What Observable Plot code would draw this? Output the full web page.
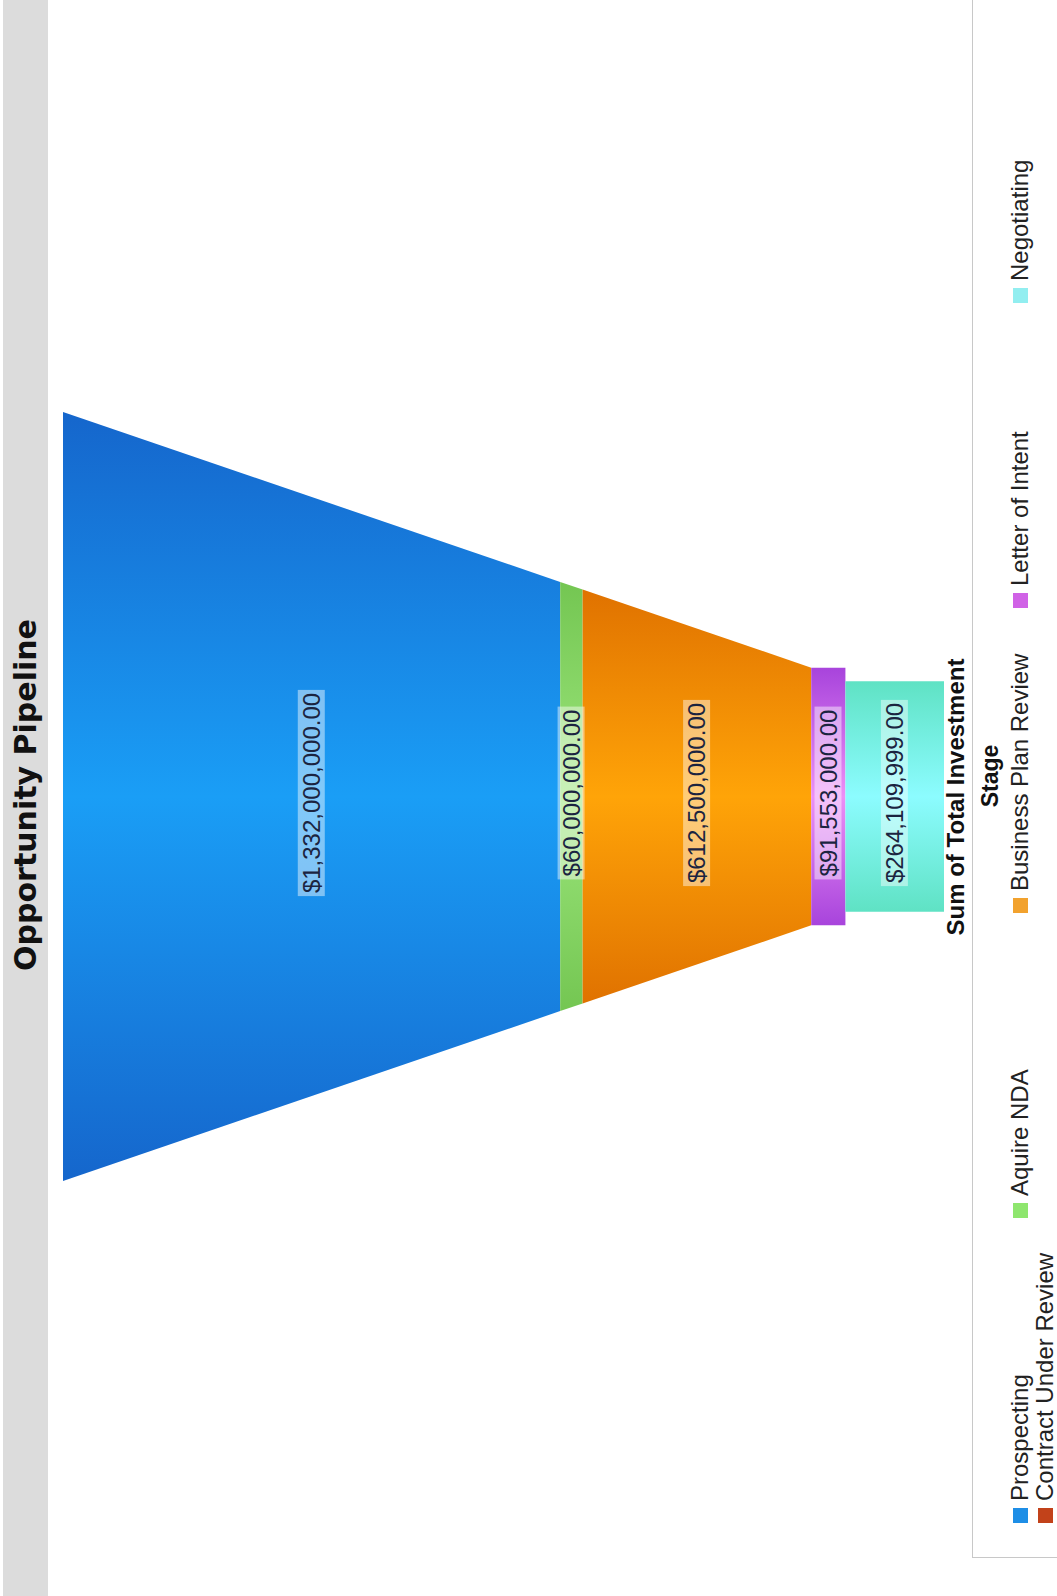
<!DOCTYPE html>
<html>
<head>
<meta charset="utf-8">
<script src="https://cdn.jsdelivr.net/npm/d3@7"></script>
<script src="https://cdn.jsdelivr.net/npm/@observablehq/plot@0.6"></script>
<style>
  html, body { margin: 0; padding: 0; background: #fff; }
  body { width: 1057px; height: 1596px; overflow: hidden; position: relative; }
  #frame {
    position: absolute; left: 0; top: 0; width: 1596px; height: 1057px;
    transform-origin: 0 0; transform: translate(0px, 1596px) rotate(-90deg);
    font-family: "Liberation Sans", Arial, sans-serif; color: #1a1a1a;
  }
  #titlebar { position: absolute; left: 0; top: 3px; width: 1596px; height: 45px; background: #dcdcdc; }
  #title { position: absolute; left: 0; top: 3px; width: 1602px; height: 45px; line-height: 45px;
    text-align: center; font-family: "DejaVu Sans", sans-serif; font-weight: bold; font-size: 30px; color: #111; }
  #chart { position: absolute; left: 0; top: 48px; width: 1596px; }
  #chart svg { background: transparent; max-width: none; }
  #axistitle { position: absolute; left: 0; top: 944px; width: 1598px; line-height: 24px; text-align: center;
    font-weight: bold; font-size: 24px; color: #111; }
  #legendbox { position: absolute; left: 38px; top: 972px; width: 1600px; height: 120px;
    border-left: 1px solid #c8c8c8; border-top: 1px solid #c8c8c8; }
  #legendtitle { position: absolute; left: 0; top: 978px; width: 1640px; line-height: 24px; text-align: center;
    font-weight: bold; font-size: 23px; color: #111; }
  .item { position: absolute; height: 22px; line-height: 22px; display: flex; align-items: center; font-size: 24px; color: #222; white-space: nowrap; }
  .sw { width: 15px; height: 15px; margin-right: 7px; flex: none; }
</style>
</head>
<body>
<div id="frame">
  <div id="titlebar"></div>
  <div id="title"></div>
  <div id="chart"></div>
  <div id="axistitle"></div>
  <div id="legendbox"></div>
  <div id="legendtitle"></div>
  <div id="legend"></div>
</div>
<script>
// ---- data ----
const title = "Opportunity Pipeline";
const valueTitle = "Sum of Total Investment";
const legendTitle = "Stage";
const stages = ["Prospecting", "Aquire NDA", "Business Plan Review", "Letter of Intent", "Negotiating", "Contract Under Review"];
const investment = [1332000000, 60000000, 612500000, 91553000, 264109999, 0];

// ---- styles ----
const edgeColors   = ["#1566cc", "#74c652", "#e07200", "#a844dc", "#5fe2c4", "#b03810"];
const centerColors = ["#1a9ef6", "#9ce67c", "#ffa408", "#ec90f6", "#8cfcff", "#d04a1c"];
const swatchColors = ["#1e8ee6", "#8ee66e", "#f2a22e", "#d062e6", "#92eef0", "#c2421a"];

document.getElementById("title").textContent = title;
document.getElementById("axistitle").textContent = valueTitle;
document.getElementById("legendtitle").textContent = legendTitle;

// funnel geometry
const total = d3.sum(investment);
const neckIndex = 3;                       // neck begins at "Letter of Intent"
const neckStart = d3.sum(investment.slice(0, neckIndex));
const NECK = 0.335, LAST = 0.30;
const segs = [];
let cum = 0;
stages.forEach((s, i) => {
  const v = investment[i];
  if (v <= 0) return;
  segs.push({stage: s, i, y0: cum, y1: cum + v, value: v});
  cum += v;
});
const hw = c => c >= neckStart ? NECK : 1 - (1 - NECK) * (c / neckStart);
const fmt = d3.format("$,.2f");

const marks = segs.map((s, k) => {
  const last = k === segs.length - 1;
  const pts = [{y: s.y0, h: last ? LAST : hw(s.y0)}, {y: s.y1, h: last ? LAST : hw(s.y1)}];
  return Plot.areaX(pts, {y: "y", x1: d => -d.h, x2: d => d.h, fill: `url(#grad-${s.i})`, curve: "linear"});
});
marks.push(Plot.text(segs, {
  x: d => 0, y: d => (d.y0 + d.y1) / 2, text: d => fmt(d.value),
  dx: 3, fontSize: 24, fill: "#1b2440", fontFamily: "Liberation Sans, Arial, sans-serif"
}));

const svg = Plot.plot({
  width: 1596, height: 896,
  marginTop: 15, marginBottom: 0, marginLeft: 415, marginRight: 412,
  x: {domain: [-1, 1], axis: null},
  y: {domain: [0, total], reverse: true, axis: null},
  style: {fontFamily: "Liberation Sans, Arial, sans-serif", background: "transparent"},
  marks
});
document.getElementById("chart").append(svg);

// gradients
const defs = d3.select(svg).insert("defs", ":first-child");
segs.forEach(s => {
  const g = defs.append("linearGradient").attr("id", `grad-${s.i}`)
    .attr("x1", 0).attr("y1", 0).attr("x2", 1).attr("y2", 0);
  g.append("stop").attr("offset", 0).attr("stop-color", edgeColors[s.i]);
  g.append("stop").attr("offset", 0.5).attr("stop-color", centerColors[s.i]);
  g.append("stop").attr("offset", 1).attr("stop-color", edgeColors[s.i]);
});

// label backgrounds
d3.select(svg).selectAll('g[aria-label="text"] text').each(function() {
  const b = this.getBBox();
  const r = document.createElementNS("http://www.w3.org/2000/svg", "rect");
  r.setAttribute("x", b.x - 3);
  r.setAttribute("y", b.y);
  r.setAttribute("width", b.width + 6);
  r.setAttribute("height", b.height);
  r.setAttribute("fill", "rgba(255,255,255,0.45)");
  r.setAttribute("stroke", "none");
  const t = this.getAttribute("transform");
  if (t) r.setAttribute("transform", t);
  this.parentNode.insertBefore(r, this);
});

// legend
const legend = document.getElementById("legend");
const perRow = 5, colW = 305, startU = 73, rowCenters = [1020, 1045];
stages.forEach((s, i) => {
  const row = Math.floor(i / perRow), col = i % perRow;
  const it = document.createElement("div");
  it.className = "item";
  it.style.left = (startU + col * colW) + "px";
  it.style.top = (rowCenters[row] - 11) + "px";
  const sw = document.createElement("span");
  sw.className = "sw";
  sw.style.background = swatchColors[i];
  const tx = document.createElement("span");
  tx.textContent = s;
  it.append(sw, tx);
  legend.append(it);
});
</script>
</body>
</html>
